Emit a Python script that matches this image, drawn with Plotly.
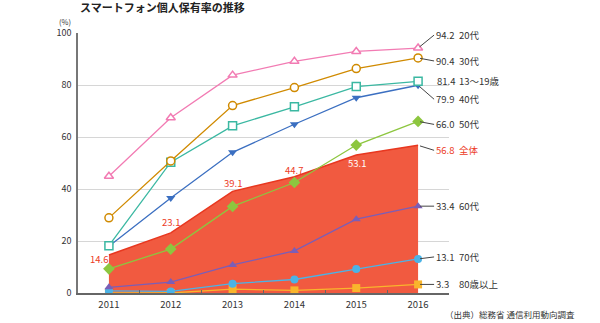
import plotly.graph_objects as go

years = ["2011", "2012", "2013", "2014", "2015", "2016"]
total = [14.6, 23.1, 39.1, 44.7, 53.1, 56.8]
age20 = [44.9, 67.4, 83.8, 89.1, 92.9, 94.2]
age30 = [28.9, 50.8, 72.1, 79.0, 86.3, 90.4]
age13 = [18.2, 50.3, 64.3, 71.6, 79.4, 81.4]
age40 = [18.0, 36.5, 54.1, 64.9, 75.1, 79.9]
age50 = [9.3, 16.9, 33.3, 42.5, 56.9, 66.0]
age60 = [2.2, 4.2, 10.8, 16.2, 28.4, 33.4]
age70 = [0.8, 0.6, 3.6, 5.2, 9.2, 13.1]
age80 = [0.0, 0.0, 1.5, 1.0, 1.9, 3.3]

series_names = ["80歳以上", "70代", "60代", "50代", "40代", "13～19歳", "30代", "20代"]
series_values = [age80, age70, age60, age50, age40, age13, age30, age20]
colors = ["#f9b52c", "#4bb3e6", "#7b5eb7", "#8dc63f", "#3b6fc1", "#3bb8a2", "#d08a00", "#f27bb3"]
symbols = ["square", "circle", "triangle-up", "diamond", "triangle-down", "square", "circle", "triangle-up"]
open_marker = [False, False, False, False, False, True, True, True]
label_dy = [0, -2, 0, 3, 14, None, 3, -13]   # pixel offset of end label (None = no leader)

total_label_shift = [(-10, -4), (0, 11), (0, 8), (0, 7), (1, -8)]

FONT = "Noto Sans CJK JP, Noto Sans, sans-serif"
RED = "#ec3b26"
TXT = "#333333"

fig = go.Figure()

fig.add_trace(go.Scatter(
    x=years, y=total, mode="lines", fill="tozeroy",
    fillcolor="#f15a40", line=dict(color="#e8371f", width=1.5),
    hoverinfo="skip", name="全体"))

for name, vals, col, sym, op in zip(series_names, series_values, colors, symbols, open_marker):
    fig.add_trace(go.Scatter(
        x=years, y=vals, mode="lines+markers", name=name,
        line=dict(color=col, width=1.3),
        marker=dict(symbol=sym, size=8 if sym != "diamond" else 9,
                    color="white" if op else col,
                    line=dict(color=col, width=1.5 if op else 0)),
        hoverinfo="skip"))

last = len(years) - 1
ann = []
# total labels
for i, (v, (dx, dy)) in enumerate(zip(total[:-1], total_label_shift)):
    ann.append(dict(x=i, y=v, xref="x", yref="y", text=f"{v:.1f}", showarrow=False,
                    xshift=dx, yshift=dy, font=dict(family=FONT, size=9.5,
                    color="white" if i == 4 else RED)))

def end_label(val, name, dy, color):
    if dy is None:
        ann.append(dict(x=last, y=val, xref="x", yref="y", text=f"{val:.1f}",
                        showarrow=False, xanchor="left", xshift=17,
                        font=dict(family=FONT, size=9.5, color=color)))
        dy = 0
    else:
        ann.append(dict(x=last, y=val, xref="x", yref="y", text=f"{val:.1f}",
                        showarrow=True, arrowhead=0, arrowwidth=1, arrowcolor="#444",
                        ax=16, ay=dy, xanchor="left", standoff=2,
                        font=dict(family=FONT, size=9.5, color=color)))
    ann.append(dict(x=last, y=val, xref="x", yref="y", text=name, showarrow=False,
                    xanchor="left", xshift=39, yshift=-dy,
                    font=dict(family=FONT, size=9.5, color=color)))

for name, vals, dy in zip(series_names, series_values, label_dy):
    end_label(vals[-1], name, dy, TXT)
end_label(total[-1], "全体", 5, RED)

ann.append(dict(x=0, y=1, xref="paper", yref="paper", text="<b>スマートフォン個人保有率の推移</b>",
                showarrow=False, xanchor="left", yanchor="middle", xshift=0, yshift=26,
                font=dict(family=FONT, size=11, color="#222")))
ann.append(dict(x=0, y=1, xref="paper", yref="paper", text="(%)",
                showarrow=False, xanchor="right", yanchor="middle", xshift=-5, yshift=12,
                font=dict(family=FONT, size=7.5, color=TXT)))
ann.append(dict(x=1, y=0, xref="paper", yref="paper", text="（出典）総務省 通信利用動向調査",
                showarrow=False, xanchor="left", yanchor="middle", xshift=-6, yshift=-21,
                font=dict(family=FONT, size=8.5, color=TXT)))

fig.update_layout(
    width=600, height=323, autosize=False,
    margin=dict(l=78, r=151, t=33, b=28),
    plot_bgcolor="white", paper_bgcolor="white",
    showlegend=False, hovermode=False,
    annotations=ann,
    font=dict(family=FONT, size=9, color=TXT),
)
fig.update_xaxes(type="category", range=[-0.5, 5.5], showline=True, linecolor="#666", linewidth=1.5,
                 ticks="inside", tickson="boundaries", ticklen=3, tickcolor="#666",
                 showgrid=False, tickfont=dict(size=9.5), ticklabelstandoff=2)
fig.update_yaxes(range=[0, 100], dtick=20, showline=True, linecolor="#777", linewidth=1.5,
                 gridcolor="#d6d6d6", gridwidth=1.2, ticks="", zeroline=False,
                 tickfont=dict(size=9), ticklabelstandoff=3)

fig.write_html("out.html")
